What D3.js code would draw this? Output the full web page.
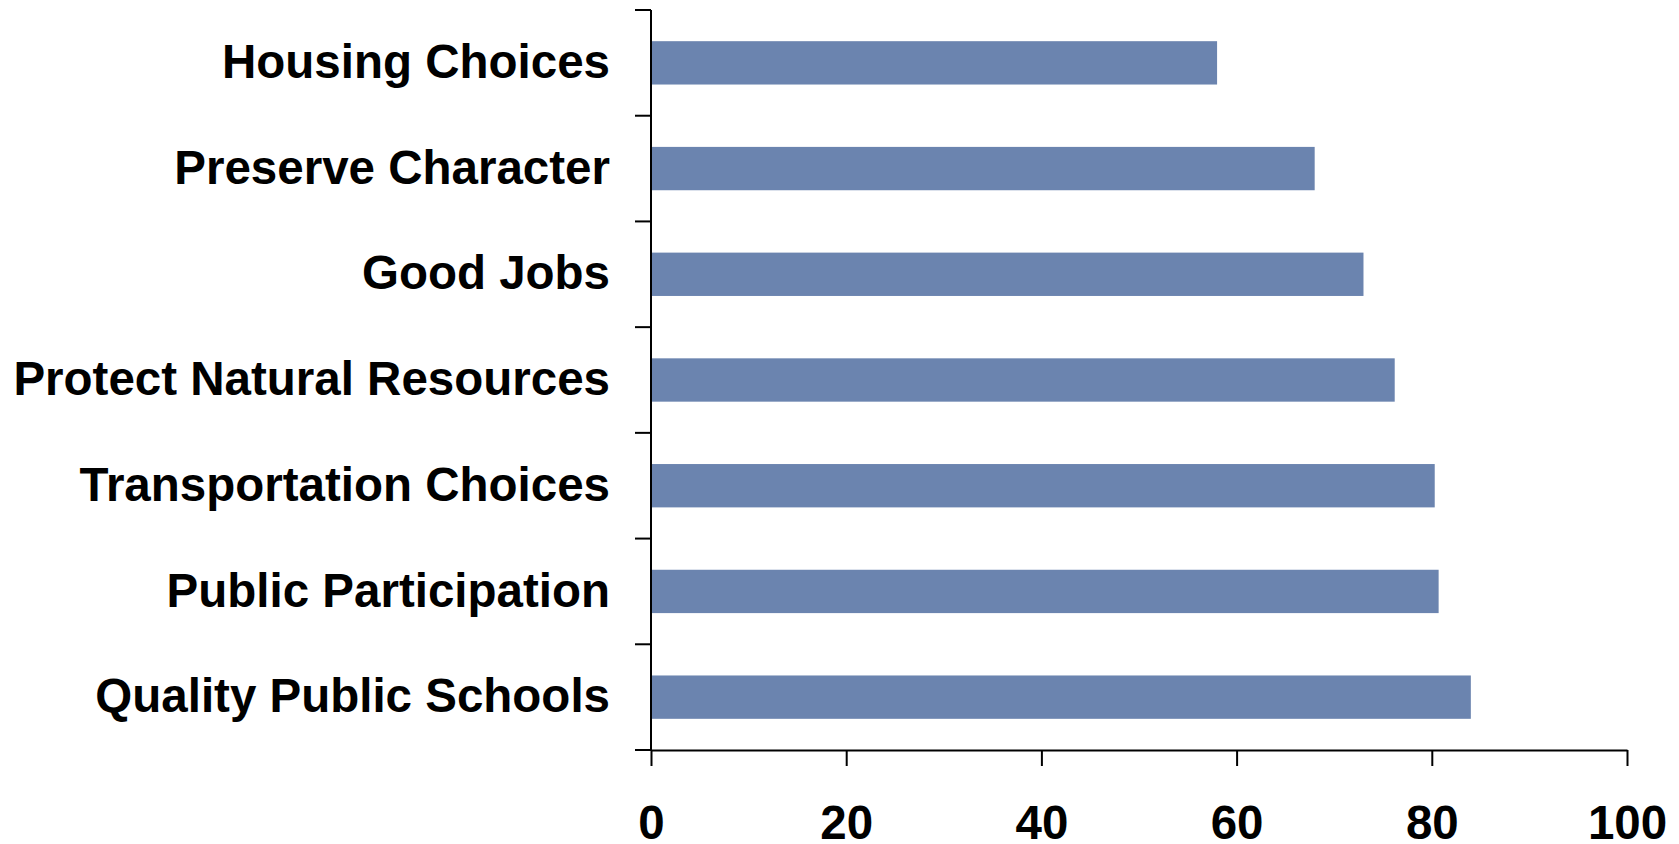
<!DOCTYPE html>
<html>
<head>
<meta charset="utf-8">
<script src="https://cdn.jsdelivr.net/npm/d3@7"></script>
<style>
  html, body { margin: 0; padding: 0; background: #fff; }
  svg { display: block; }
  text { font-family: "Liberation Sans", Arial, sans-serif; font-weight: bold; fill: #000; }
</style>
</head>
<body>
<svg id="chart" width="1679" height="844"></svg>
<script>
const categories = [
  "Housing Choices",
  "Preserve Character",
  "Good Jobs",
  "Protect Natural Resources",
  "Transportation Choices",
  "Public Participation",
  "Quality Public Schools"
];
const values = [58, 68, 73, 76.2, 80.3, 80.7, 84];
const xTicks = [0, 20, 40, 60, 80, 100];

(function () {
const svg = d3.select("#chart");
const mLeft = 651, mRight = 1627, mTop = 10, mBottom = 750;

const x = d3.scaleLinear().domain([0, 100]).range([mLeft, mRight]);
const y = d3.scaleBand().domain(categories).range([mTop, mBottom])
  .paddingInner(0.59).paddingOuter(0.295);

// bars
svg.append("g").selectAll("rect")
  .data(categories)
  .join("rect")
  .attr("x", x(0))
  .attr("y", d => y(d))
  .attr("width", (d, i) => x(values[i]) - x(0))
  .attr("height", y.bandwidth())
  .attr("fill", "#6b84af");

// y axis labels
const yAxis = svg.append("g")
  .attr("transform", `translate(${mLeft},0)`)
  .call(d3.axisLeft(y).tickSize(0).tickPadding(41));
yAxis.select(".domain").remove();
yAxis.selectAll("text").style("font-size", "47.5px").attr("dy", "0.32em");

// y axis line and boundary ticks
const step = y.step();
const bounds = d3.range(categories.length + 1).map(i => mTop + i * step);
svg.append("line")
  .attr("x1", mLeft).attr("x2", mLeft)
  .attr("y1", mTop).attr("y2", mBottom)
  .attr("stroke", "#000").attr("stroke-width", 2);
svg.append("g").selectAll("line")
  .data(bounds)
  .join("line")
  .attr("x1", mLeft - 16).attr("x2", mLeft)
  .attr("y1", d => d).attr("y2", d => d)
  .attr("stroke", "#000").attr("stroke-width", 2);

// x axis
const xAxis = svg.append("g")
  .attr("transform", `translate(0,${mBottom})`)
  .call(d3.axisBottom(x).tickValues(xTicks).tickSize(16).tickPadding(39).tickSizeOuter(0));
xAxis.select(".domain").attr("stroke", "#000").attr("stroke-width", 2);
xAxis.selectAll(".tick line").attr("stroke", "#000").attr("stroke-width", 2);
xAxis.selectAll("text").style("font-size", "47.5px");
})();
</script>
</body>
</html>
